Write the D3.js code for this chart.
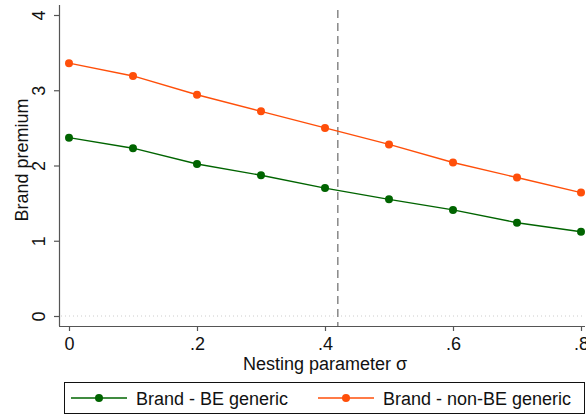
<!DOCTYPE html>
<html lang="en">
<head>
    <title>Brand premium vs nesting parameter</title>
    <meta charset="UTF-8">
    <script src="https://d3js.org/d3.v7.min.js"></script>
    <style>
      body { margin: 0; background: #fff; }
      svg { font-family: "Liberation Sans", Arial, sans-serif; }
    </style>
</head>
<body>
    <svg width="586" height="415"></svg>
    <script>
      // values
      let sigma = [0, 0.1, 0.2, 0.3, 0.4, 0.5, 0.6, 0.7, 0.8]
      let brandBE = [2.37, 2.23, 2.02, 1.87, 1.70, 1.55, 1.41, 1.24, 1.12]
      let brandNonBE = [3.36, 3.19, 2.94, 2.72, 2.50, 2.28, 2.04, 1.84, 1.64]
      let xTicks = [0, 0.2, 0.4, 0.6, 0.8]
      let yTicks = [0, 1, 2, 3, 4]
      let sigmaCut = 0.42
      let seriesNames = ["Brand - BE generic", "Brand - non-BE generic"]

      let green = "#006400", orange = "#ff4f0a"
      let fs = 18

      let svg = d3.select("svg")
      let xScale = d3.scaleLinear().domain([0, 0.8]).range([69, 581])
      let yScale = d3.scaleLinear().domain([0, 4]).range([316, 15])

      // x axis
      let xAxis = d3.axisBottom(xScale).tickValues(xTicks).tickSize(5).tickSizeOuter(0)
        .tickFormat(d => d === 0 ? "0" : d3.format(".1f")(d).replace(/^0/, ""))
      let xg = svg.append("g").attr("transform", "translate(0,326)").call(xAxis)
      xg.select(".domain").attr("d", "M59,0.5H585")
      // y axis
      let yAxis = d3.axisLeft(yScale).tickValues(yTicks).tickSize(5).tickSizeOuter(0)
        .tickFormat(d3.format("d"))
      let yg = svg.append("g").attr("transform", "translate(59,0)").call(yAxis)
      yg.select(".domain").attr("d", "M0.5,5V326")
      svg.selectAll(".domain, .tick line").attr("stroke", "#555").attr("stroke-width", 1.2)
      xg.attr("font-size", fs).attr("font-family", null)
      yg.attr("font-size", fs).attr("font-family", null)
      xg.selectAll(".tick text").attr("fill", "#111").attr("dy", "0.71em").attr("y", 11)
      yg.selectAll(".tick text").attr("fill", "#111")
        .attr("x", null).attr("dy", "0.35em")
        .attr("text-anchor", "middle")
        .attr("transform", "translate(-20,0) rotate(-90)")
        .attr("y", 0)

      // dotted line at y = 0
      svg.append("line")
        .attr("x1", 61).attr("x2", 585)
        .attr("y1", yScale(0)).attr("y2", yScale(0))
        .attr("stroke", "#ccc").attr("stroke-width", 1).attr("stroke-dasharray", "1,3")

      // dashed reference line
      svg.append("line")
        .attr("x1", xScale(sigmaCut)).attr("x2", xScale(sigmaCut))
        .attr("y1", 10).attr("y2", 326)
        .attr("stroke", "#888").attr("stroke-width", 1.5).attr("stroke-dasharray", "8,5")

      let series = [
        {name: seriesNames[0], values: brandBE, color: green},
        {name: seriesNames[1], values: brandNonBE, color: orange}
      ]
      let line = d3.line().x((d, i) => xScale(sigma[i])).y(d => yScale(d))
      series.forEach(s => {
        svg.append("path").attr("d", line(s.values))
          .attr("fill", "none").attr("stroke", s.color).attr("stroke-width", 1.4)
        svg.selectAll(null).data(s.values).enter().append("circle")
          .attr("cx", (d, i) => xScale(sigma[i])).attr("cy", d => yScale(d))
          .attr("r", 4).attr("fill", s.color)
      })

      // axis titles
      svg.append("text").attr("x", 325).attr("y", 370).attr("text-anchor", "middle")
        .attr("font-size", fs).attr("fill", "#111").text("Nesting parameter σ")
      svg.append("text").attr("transform", "translate(28,160) rotate(-90)")
        .attr("text-anchor", "middle").attr("font-size", fs).attr("fill", "#111").text("Brand premium")

      // legend
      svg.append("rect").attr("x", 64.5).attr("y", 382.5).attr("width", 520).attr("height", 31)
        .attr("fill", "none").attr("stroke", "#111").attr("stroke-width", 1)
      let legendX = [71, 318]
      series.forEach((s, i) => {
        let g = svg.append("g").attr("transform", `translate(${legendX[i]},398)`)
        g.append("line").attr("x1", 0).attr("x2", 56).attr("stroke", s.color).attr("stroke-width", 1.4)
        g.append("circle").attr("cx", 28).attr("r", 4).attr("fill", s.color)
        g.append("text").attr("x", 65).attr("y", 6.5).attr("font-size", fs).attr("fill", "#111").text(s.name)
      })
    </script>
</body>
</html>
